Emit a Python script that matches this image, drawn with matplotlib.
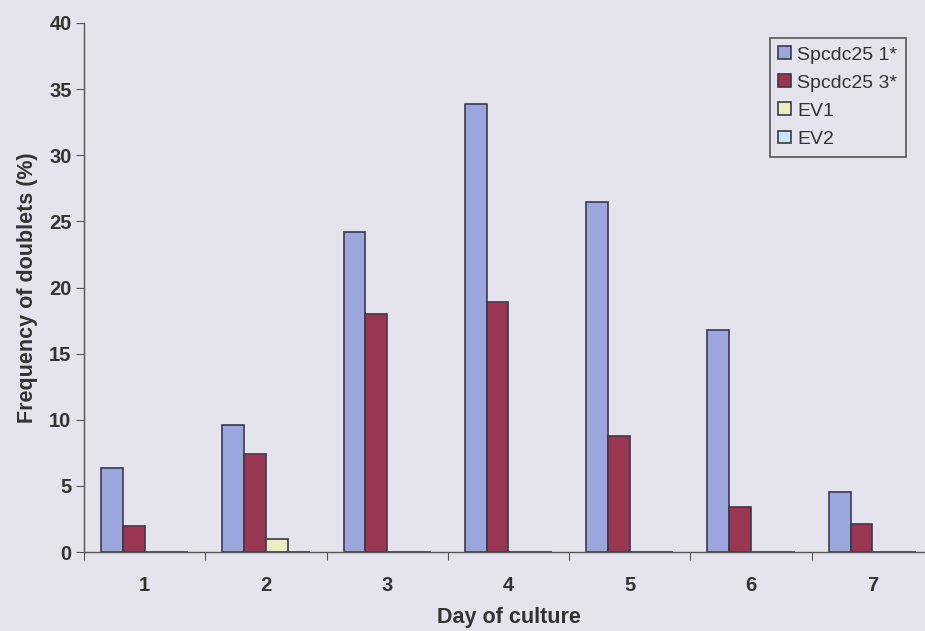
import numpy as np
import matplotlib
matplotlib.use("Agg")
import matplotlib.pyplot as plt

days = ["1", "2", "3", "4", "5", "6", "7"]
spcdc25_1 = [6.35, 9.6, 24.2, 33.9, 26.5, 16.8, 4.5]
spcdc25_3 = [2.0, 7.4, 18.0, 18.9, 8.8, 3.4, 2.1]
ev1 = [0, 1.0, 0, 0, 0, 0, 0]
ev2 = [0, 0, 0, 0, 0, 0, 0]
labels = ["Spcdc25 1*", "Spcdc25 3*", "EV1", "EV2"]
colors = ["#9aa6dc", "#9b3652", "#ecedc2", "#c8e6f4"]

bg = "#e5e3ee"
txt = "#333333"
plt.rcParams['font.family'] = ['Liberation Sans', 'DejaVu Sans']

fig = plt.figure(figsize=(9.25, 6.31), dpi=100)
fig.patch.set_facecolor(bg)
ax = fig.add_axes([84 / 925, 1 - 552 / 631, (933 - 84) / 925, (552 - 23) / 631])
ax.set_facecolor(bg)

x = np.arange(len(days))
w = 0.18
series = [spcdc25_1, spcdc25_3, ev1, ev2]
for i, (vals, lab, c) in enumerate(zip(series, labels, colors)):
    ax.bar(x + (i - 1.5) * w, vals, w, color=c, edgecolor="#3a3a4a",
           linewidth=1.2, label=lab)

ax.set_xlim(-0.5, len(days) - 0.5)
ax.set_ylim(0, 40)
ax.set_yticks(range(0, 41, 5))
ax.set_xticks(np.arange(-0.5, len(days), 1.0))
ax.set_xticklabels([])
ax.set_xticks(x, minor=True)
ax.set_xticklabels(days, minor=True)
ax.tick_params(axis="x", which="minor", length=0, pad=17)
ax.tick_params(axis="x", which="major", length=6, direction="out", color="#555555")
ax.tick_params(axis="y", length=6, direction="out", color="#555555", pad=3)
for lbl in ax.get_yticklabels() + ax.get_xticklabels(minor=True):
    lbl.set_fontsize(14.5)
    lbl.set_fontweight("bold")
    lbl.set_color(txt)

for s in ["top", "right"]:
    ax.spines[s].set_visible(False)
for s in ["left", "bottom"]:
    ax.spines[s].set_color("#555555")
    ax.spines[s].set_linewidth(1.0)

ax.set_ylabel("Frequency of doublets (%)", fontsize=15.5, fontweight="bold",
              color=txt, labelpad=8)
ax.set_xlabel("Day of culture", fontsize=15.5, fontweight="bold", color=txt,
              labelpad=9)

leg = ax.legend(loc="upper left", bbox_to_anchor=((760 - 84) / (933 - 84), 1.0 - 5 / 529),
                fontsize=14, frameon=True, fancybox=False, handlelength=0.65,
                handleheight=0.65, handletextpad=0.3, labelspacing=0.55,
                borderpad=0.45, labelcolor=txt)
leg.get_frame().set_facecolor(bg)
leg.get_frame().set_edgecolor("#555555")
leg.get_frame().set_linewidth(1.2)
leg.get_frame().set_alpha(1)

fig.savefig("out.png", dpi=100, facecolor=bg)
